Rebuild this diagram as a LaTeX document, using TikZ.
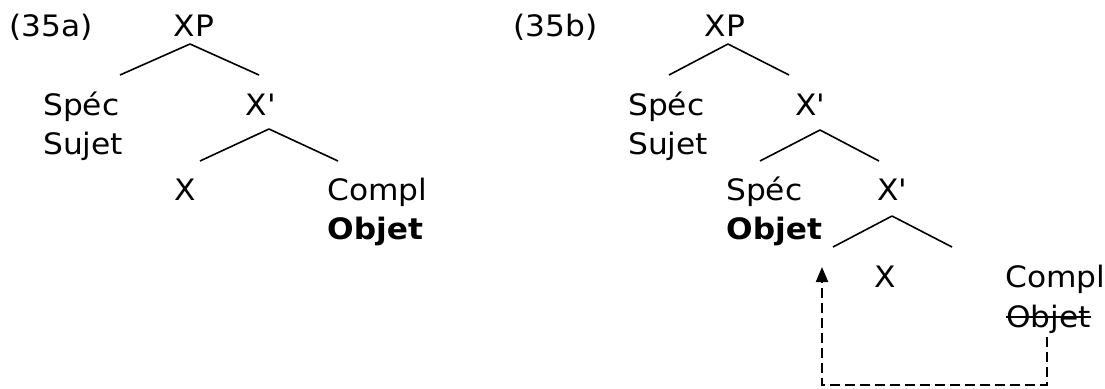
\documentclass[tikz,border=0pt]{standalone}
\usepackage{fontspec}
\newfontfamily\vfont{DejaVu Sans}[FakeStretch=1.06]
\usetikzlibrary{calc,arrows.meta}
\tikzset{
  lab/.style={inner sep=0pt, font=\vfont\fontsize{29.5}{35}\selectfont},
  branch/.style={line width=1.6pt},
  move/.style={line width=2.2pt, dash pattern=on 10pt off 5pt, -{Triangle[length=15pt,width=12pt]}},
  strike/.style={line width=1.8pt}
}
\begin{document}
\begin{tikzpicture}[x=1pt,y=-1pt]
\useasboundingbox (0,0) rectangle (1105,388);
% ---- (35a)
\node[lab, anchor=base west] (Ea) at (9,36) {(35a)};
\node[lab, anchor=base] (XPa) at (194,36) {XP};
\node[lab, anchor=base west] (SpecA) at (43,115) {Spéc};
\node[lab, anchor=base west] (SujA) at (43,154) {Sujet};
\node[lab, anchor=base] (XbarA) at (261,115) {X'};
\node[lab, anchor=base] (XA) at (185,200) {X};
\node[lab, anchor=base west] (ComplA) at (327,200) {Compl};
\node[lab, anchor=base west] (ObjA) at (327,239) {\bfseries Objet};
\draw[branch] ($(XPa.base)+(-4,8)$) -- ($(SpecA.base west)+(77,-40)$);
\draw[branch] ($(XPa.base)+(-4,8)$) -- ($(XbarA.base)+(-2,-40)$);
\draw[branch] ($(XbarA.base)+(8,14)$) -- ($(XA.base)+(15,-39)$);
\draw[branch] ($(XbarA.base)+(8,14)$) -- ($(ComplA.base west)+(11,-39)$);
% ---- (35b)
\node[lab, anchor=base west] (Eb) at (513,36) {(35b)};
\node[lab, anchor=base] (XPb) at (725,36) {XP};
\node[lab, anchor=base west] (SpecB) at (628,115) {Spéc};
\node[lab, anchor=base west] (SujB) at (628,154) {Sujet};
\node[lab, anchor=base] (XbarB) at (810,115) {X'};
\node[lab, anchor=base west] (SpecC) at (726,200) {Spéc};
\node[lab, anchor=base west] (ObjC) at (726,239) {\bfseries Objet};
\node[lab, anchor=base] (XbarC) at (892,200) {X'};
\node[lab, anchor=base] (XB) at (885,287) {X};
\node[lab, anchor=base west] (ComplB) at (1005,287) {Compl};
\node[lab, anchor=base west] (ObjB) at (1006,327) {Objet};
\draw[strike] ($(ObjB.base west)+(0,-10)$) -- ($(ObjB.base east)+(0,-10)$);
\draw[branch] ($(XPb.base)+(3,8)$) -- ($(SpecB.base west)+(41,-40)$);
\draw[branch] ($(XPb.base)+(3,8)$) -- ($(XbarB.base)+(-21,-40)$);
\draw[branch] ($(XbarB.base)+(10,15)$) -- ($(SpecC.base west)+(34,-39)$);
\draw[branch] ($(XbarB.base)+(10,15)$) -- ($(XbarC.base)+(-13,-39)$);
\draw[branch] ($(XbarC.base)+(0,16)$) -- ($(XB.base)+(-52,-40)$);
\draw[branch] ($(XbarC.base)+(0,16)$) -- ($(ComplB.base west)+(-53,-40)$);
\coordinate (tip) at ($(ObjC.base west)+(96,28)$);
\draw[move] ($(ObjB.base west)+(41,10)$) -- ++(0,48) -| (tip);
\end{tikzpicture}
\end{document}
